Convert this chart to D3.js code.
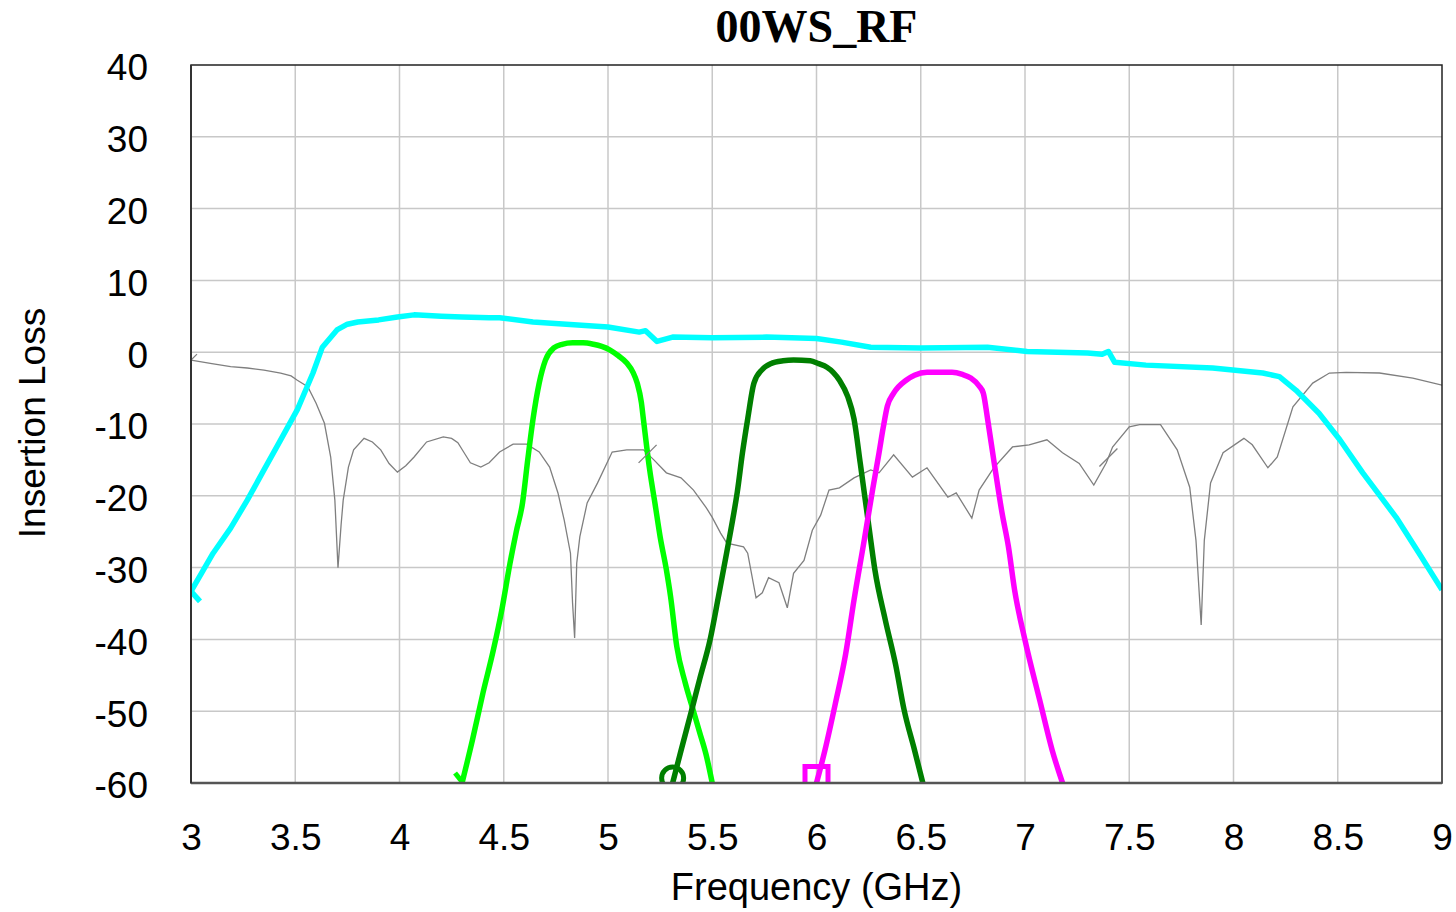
<!DOCTYPE html>
<html>
<head>
<meta charset="utf-8">
<script src="https://cdn.jsdelivr.net/npm/d3@7/dist/d3.min.js"></script>
<style>
  html, body { margin: 0; padding: 0; background: #fff; }
  svg { display: block; }
</style>
</head>
<body>
<svg id="chart" width="1456" height="912"></svg>
<script>
// Axis ticks
const xTicks = [3, 3.5, 4, 4.5, 5, 5.5, 6, 6.5, 7, 7.5, 8, 8.5, 9];
const yTicks = [-60, -50, -40, -30, -20, -10, 0, 10, 20, 30, 40];

// Reflection trace (thin grey): [frequency GHz, dB]
const reflection = [
  [3.00,-1.1],[3.10,-1.6],[3.19,-2.0],[3.27,-2.2],[3.35,-2.5],[3.43,-2.9],[3.48,-3.3],[3.51,-3.9],
  [3.56,-4.8],[3.60,-7.1],[3.64,-9.9],[3.67,-14.6],[3.69,-20.6],[3.705,-30.0],[3.72,-24.0],[3.73,-20.6],
  [3.755,-16.0],[3.78,-13.6],[3.83,-12.0],[3.87,-12.5],[3.91,-13.6],[3.95,-15.5],[3.99,-16.7],[4.03,-15.8],
  [4.07,-14.6],[4.13,-12.5],[4.21,-11.8],[4.25,-12.0],[4.28,-12.6],[4.31,-14.0],[4.34,-15.4],[4.39,-16.0],
  [4.43,-15.4],[4.48,-13.9],[4.545,-12.8],[4.61,-12.8],[4.67,-13.9],[4.72,-16.0],[4.76,-19.6],[4.79,-23.4],
  [4.82,-28.0],[4.83,-34.9],[4.84,-39.8],[4.85,-29.4],[4.865,-25.7],[4.90,-21.0],[4.95,-18.2],[5.02,-13.9],
  [5.09,-13.6],[5.17,-13.6],[5.22,-15.0],[5.28,-16.8],[5.35,-17.5],[5.41,-19.2],[5.47,-21.6],[5.50,-23.0],
  [5.54,-25.2],[5.57,-26.6],[5.65,-27.1],[5.67,-28.0],[5.71,-34.2],[5.74,-33.5],[5.77,-31.4],[5.82,-32.1],
  [5.86,-35.6],[5.89,-30.8],[5.94,-29.0],[5.98,-24.8],[6.02,-22.7],[6.06,-19.2],[6.11,-18.9],[6.18,-17.5],
  [6.26,-16.4],[6.30,-16.8],[6.37,-14.3],[6.46,-17.4],[6.53,-16.1],[6.63,-20.2],[6.67,-19.6],[6.745,-23.1],
  [6.78,-19.2],[6.85,-16.1],[6.94,-13.2],[7.02,-12.9],[7.105,-12.2],[7.18,-14.0],[7.26,-15.5],[7.33,-18.5],
  [7.39,-15.4],[7.42,-13.2],[7.50,-10.4],[7.55,-10.1],[7.65,-10.1],[7.73,-13.6],[7.79,-18.8],[7.82,-26.2],
  [7.845,-38.0],[7.86,-26.2],[7.89,-18.2],[7.95,-14.0],[8.05,-12.0],[8.09,-12.9],[8.165,-16.1],[8.21,-14.6],
  [8.285,-7.6],[8.38,-4.3],[8.46,-2.9],[8.54,-2.8],[8.70,-2.9],[8.86,-3.6],[9.00,-4.6]
];

// Wideband RF path (cyan)
const wideband = [
  [3.00,-33.3],[3.05,-30.8],[3.106,-28.0],[3.19,-24.5],[3.27,-20.6],[3.35,-16.4],[3.43,-12.2],[3.51,-8.0],
  [3.585,-2.9],[3.63,0.7],[3.70,3.1],[3.75,3.9],[3.80,4.2],[3.90,4.5],[3.99,4.9],[4.07,5.2],[4.20,5.0],
  [4.30,4.9],[4.43,4.8],[4.48,4.8],[4.64,4.2],[4.80,3.9],[5.00,3.5],[5.15,2.8],[5.18,3.0],[5.235,1.5],
  [5.31,2.1],[5.50,2.0],[5.76,2.1],[6.00,1.9],[6.12,1.4],[6.26,0.7],[6.50,0.6],[6.82,0.7],[7.01,0.1],
  [7.30,-0.1],[7.37,-0.3],[7.40,0.1],[7.43,-1.4],[7.58,-1.8],[7.90,-2.2],[8.14,-2.9],[8.22,-3.4],
  [8.30,-5.3],[8.41,-8.5],[8.51,-12.2],[8.62,-16.8],[8.78,-23.0],[8.89,-28.0],[9.00,-33.1]
];

// Band 1 filter (bright green)
const band1 = [
  [4.30,-60],[4.35,-54],[4.40,-47.5],[4.45,-41.5],[4.49,-36],[4.53,-29.4],[4.56,-25],[4.59,-21],
  [4.615,-15],[4.64,-9.4],[4.67,-4.3],[4.70,-1.1],[4.74,0.6],[4.78,1.1],[4.83,1.3],[4.88,1.3],[4.93,1.1],
  [4.97,0.8],[5.01,0.3],[5.05,-0.5],[5.09,-1.5],[5.12,-2.8],[5.14,-4.3],[5.16,-7],[5.17,-9.4],[5.20,-16.4],
  [5.225,-21],[5.25,-25.7],[5.28,-30.3],[5.30,-34],[5.33,-41],[5.37,-46],[5.41,-50],[5.44,-53],[5.47,-56],[5.50,-60]
];

// Band 2 filter (dark green)
const band2 = [
  [5.31,-60],[5.35,-55.5],[5.40,-50],[5.44,-45.5],[5.49,-40],[5.53,-34],[5.57,-27.8],[5.60,-23],
  [5.62,-19.5],[5.645,-14],[5.67,-9.3],[5.70,-4.3],[5.74,-2.4],[5.78,-1.6],[5.84,-1.2],[5.89,-1.1],[5.97,-1.2],
  [6.01,-1.6],[6.05,-2.1],[6.08,-2.8],[6.11,-3.9],[6.15,-6.2],[6.18,-9.3],[6.21,-15.5],[6.25,-24],[6.28,-30.3],
  [6.33,-37.3],[6.38,-43.6],[6.42,-49.8],[6.47,-55.4],[6.51,-60]
];

// Band 3 filter (magenta)
const band3 = [
  [6.00,-60],[6.04,-55.5],[6.09,-49],[6.14,-42],[6.18,-34.5],[6.23,-26],[6.27,-19],[6.30,-14],[6.32,-10.5],
  [6.34,-7.5],[6.37,-5.7],[6.43,-3.9],[6.47,-3.2],[6.53,-2.8],[6.65,-2.8],[6.70,-3.1],[6.74,-3.6],[6.78,-4.7],
  [6.80,-5.7],[6.82,-9.2],[6.85,-15],[6.89,-22.4],[6.92,-27],[6.95,-33.1],[7.00,-40.1],[7.07,-48.4],
  [7.13,-55.4],[7.18,-60]
];

// Frequencies where trace markers sit on the grey trace
const traceMarkFreqs = [5.19, 7.40];

const W = 1456, H = 912;
const m = { left: 191, right: 1442, top: 65, bottom: 783 };

const svg = d3.select("#chart");
const x = d3.scaleLinear().domain([3, 9]).range([m.left, m.right]);
const y = d3.scaleLinear().domain([-60, 40]).range([m.bottom, m.top]);

svg.append("rect").attr("width", W).attr("height", H).attr("fill", "#fff");

// Grid
const grid = svg.append("g");
grid.selectAll(".vg").data(xTicks.slice(1, -1)).join("line")
  .attr("x1", d => x(d)).attr("x2", d => x(d))
  .attr("y1", m.top).attr("y2", m.bottom)
  .attr("stroke", "#c8c8c8").attr("stroke-width", 1.5);
grid.selectAll(".hg").data(yTicks.slice(1, -1)).join("line")
  .attr("y1", d => y(d)).attr("y2", d => y(d))
  .attr("x1", m.left).attr("x2", m.right)
  .attr("stroke", "#c8c8c8").attr("stroke-width", 1.5);

// Clip to plot area
svg.append("clipPath").attr("id", "plotClip")
  .append("rect").attr("x", m.left).attr("y", m.top)
  .attr("width", m.right - m.left).attr("height", m.bottom - m.top);

const plot = svg.append("g").attr("clip-path", "url(#plotClip)");

const lineLin = d3.line().x(d => x(d[0])).y(d => y(d[1]));
const lineSmooth = d3.line().x(d => x(d[0])).y(d => y(d[1])).curve(d3.curveMonotoneX);

function valueAt(data, f) {
  for (let i = 1; i < data.length; i++) {
    if (data[i][0] >= f) {
      const [f0, v0] = data[i - 1], [f1, v1] = data[i];
      return v0 + (v1 - v0) * (f - f0) / (f1 - f0);
    }
  }
  return data[data.length - 1][1];
}

// Grey reflection trace
plot.append("path").datum(reflection)
  .attr("d", lineLin).attr("fill", "none")
  .attr("stroke", "#7f7f7f").attr("stroke-width", 1.3);

// Cyan wideband trace
plot.append("path").datum(wideband)
  .attr("d", lineLin).attr("fill", "none")
  .attr("stroke", "#00ffff").attr("stroke-width", 5.5)
  .attr("stroke-linejoin", "round");

// Filter traces
const bands = [
  { data: band1, color: "#00ff00", marker: "vee" },
  { data: band2, color: "#007f00", marker: "circle" },
  { data: band3, color: "#ff00ff", marker: "square" }
];
bands.forEach(b => {
  plot.append("path").datum(b.data)
    .attr("d", lineSmooth).attr("fill", "none")
    .attr("stroke", b.color).attr("stroke-width", 5.5)
    .attr("stroke-linejoin", "round");
});

// Start-of-trace markers on the filter traces
bands.forEach(b => {
  const cx = x(b.data[0][0]), cy = y(b.data[0][1]) - 5;
  const g = plot.append("g").attr("transform", `translate(${cx},${cy})`)
    .attr("fill", "none").attr("stroke", b.color).attr("stroke-width", 5);
  if (b.marker === "circle") {
    g.append("circle").attr("cx", 0).attr("cy", 0).attr("r", 11);
  } else if (b.marker === "square") {
    g.append("rect").attr("x", -11.5).attr("y", -11.5).attr("width", 23).attr("height", 23);
  } else {
    g.append("path").attr("d", "M-7,-5 L1,5");
  }
});

// Start-of-trace ticks on grey and cyan traces
plot.append("path")
  .attr("transform", `translate(${x(reflection[0][0])},${y(reflection[0][1])})`)
  .attr("d", "M0,0 L6,-6").attr("stroke", "#7f7f7f").attr("stroke-width", 1.3).attr("fill", "none");
plot.append("path")
  .attr("transform", `translate(${x(wideband[0][0])},${y(wideband[0][1])})`)
  .attr("d", "M0,0 L9,10").attr("stroke", "#00ffff").attr("stroke-width", 5.5).attr("fill", "none");

// Small slash markers along the grey trace
traceMarkFreqs.forEach(f => {
  plot.append("path")
    .attr("transform", `translate(${x(f)},${y(valueAt(reflection, f))})`)
    .attr("d", "M-9,9 L9,-9").attr("stroke", "#7f7f7f").attr("stroke-width", 1.3).attr("fill", "none");
});

// Frame
svg.append("rect").attr("x", m.left).attr("y", m.top)
  .attr("width", m.right - m.left).attr("height", m.bottom - m.top)
  .attr("fill", "none").attr("stroke", "#222").attr("stroke-width", 1.5);
svg.append("line").attr("x1", m.left).attr("x2", m.right)
  .attr("y1", m.bottom).attr("y2", m.bottom)
  .attr("stroke", "#555").attr("stroke-width", 2.5);
svg.append("line").attr("x1", m.left).attr("x2", m.left)
  .attr("y1", m.top).attr("y2", m.bottom)
  .attr("stroke", "#333").attr("stroke-width", 2);

// Axes (plain hyphen for negative numbers)
const font = "Liberation Sans, Arial, sans-serif";
const fmt = d => String(d);
const xAxis = d3.axisBottom(x).tickValues(xTicks).tickSize(0).tickPadding(41).tickFormat(fmt);
const gx = svg.append("g").attr("transform", `translate(0,${m.bottom})`).call(xAxis);
gx.select(".domain").remove();
gx.selectAll("text").attr("font-family", font).attr("font-size", 37).attr("fill", "#000");

const yAxis = d3.axisLeft(y).tickValues(yTicks).tickSize(0).tickPadding(43).tickFormat(fmt);
const gy = svg.append("g").attr("transform", `translate(${m.left},3)`).call(yAxis);
gy.select(".domain").remove();
gy.selectAll("text").attr("font-family", font).attr("font-size", 37).attr("fill", "#000");

// Titles
svg.append("text").attr("x", (m.left + m.right) / 2).attr("y", 42)
  .attr("text-anchor", "middle")
  .attr("font-family", "Liberation Serif, Times New Roman, serif")
  .attr("font-weight", "bold").attr("font-size", 46).attr("fill", "#000")
  .text("00WS_RF");

svg.append("text").attr("x", (m.left + m.right) / 2).attr("y", 900)
  .attr("text-anchor", "middle")
  .attr("font-family", font).attr("font-size", 38).attr("fill", "#000")
  .text("Frequency (GHz)");

svg.append("text")
  .attr("transform", `translate(45,${(m.top + m.bottom) / 2 - 1}) rotate(-90)`)
  .attr("text-anchor", "middle")
  .attr("font-family", font).attr("font-size", 37).attr("fill", "#000")
  .text("Insertion Loss");
</script>
</body>
</html>
